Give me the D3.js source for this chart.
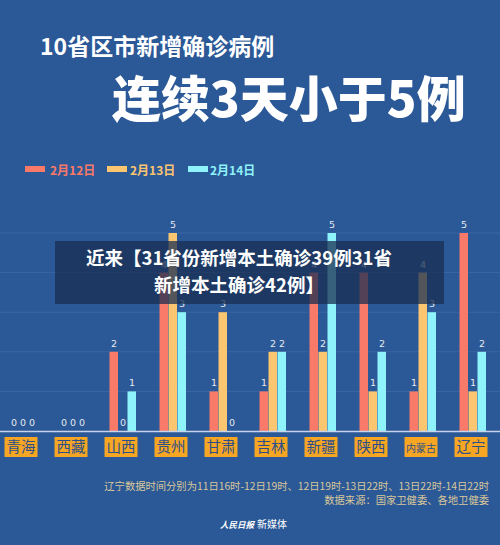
<!DOCTYPE html><html><head><meta charset="utf-8"><script src="https://cdn.jsdelivr.net/npm/d3@7"></script>
<style>body{margin:0;background:#2b5896}svg{display:block}</style></head><body><svg id="c" width="500" height="545"></svg>
<script>
const categories=["青海","西藏","山西","贵州","甘肃","吉林","新疆","陕西","内蒙古","辽宁"];
const seriesNames=["2月12日","2月13日","2月14日"];
const feb12=[0,0,2,4,1,1,4,4,1,5];
const feb13=[0,0,0,5,3,2,2,1,4,1];
const feb14=[0,0,1,3,0,2,5,2,3,2];
const colors=["#f97a68","#fcc570","#8ef3fb"];
const series=[feb12,feb13,feb14];
const svg=d3.select("#c");
const F="'Noto Sans CJK SC',sans-serif";
svg.append("rect").attr("width",500).attr("height",545).attr("fill","#2b5896");
const y=d3.scaleLinear().domain([0,5]).range([431,233]);
for(let v=1;v<=5;v++)svg.append("line").attr("x1",0).attr("x2",500).attr("y1",y(v)).attr("y2",y(v)).attr("stroke","#3b66a3").attr("stroke-width",1);
svg.append("text").attr("x",40).attr("y",55).attr("fill","#fff").attr("font-family",F).attr("font-weight",700).attr("font-size",23).text("10省区市新增确诊病例");
svg.append("text").attr("x",112).attr("y",117).attr("fill","#fff").attr("font-family",F).attr("font-weight",900).attr("font-size",49).text("连续3天小于5例");
const lg=[[25,50],[107,130],[188,210]];
seriesNames.forEach((n,i)=>{svg.append("rect").attr("x",lg[i][0]).attr("y",166).attr("width",20).attr("height",6).attr("fill",colors[i]);
svg.append("text").attr("x",lg[i][1]).attr("y",175).attr("fill",colors[i]).attr("font-family",F).attr("font-weight",700).attr("font-size",12).text(n);});
const x0=d3.scaleBand().domain(categories).range([-4,496]);
const x1=d3.scaleBand().domain([0,1,2]).range([0,27]);
categories.forEach((c,ci)=>{const gx=x0(c)+x0.bandwidth()/2-13.5+2;
series.forEach((s,si)=>{const v=s[ci];const bx=gx+x1(si);
if(v>0)svg.append("rect").attr("x",bx).attr("y",y(v)).attr("width",8.5).attr("height",y(0)-y(v)).attr("fill",colors[si]);
svg.append("text").attr("x",bx+4.5).attr("y",y(v)-5).attr("text-anchor","middle").attr("fill","#e6e9ef").attr("font-family","DejaVu Sans").attr("font-size",9.5).text(v);});
const lx=x0(c)+x0.bandwidth()/2;
svg.append("rect").attr("x",lx-16.5).attr("y",437).attr("width",33).attr("height",20).attr("fill","#f6a623");
svg.append("text").attr("x",lx).attr("y",452).attr("text-anchor","middle").attr("fill","#2b4f8a").attr("font-family",F).attr("font-size",c.length>2?10:14.5).text(c);});
svg.append("line").attr("x1",0).attr("x2",500).attr("y1",431.5).attr("y2",431.5).attr("stroke","#c7d3ea").attr("stroke-width",1.5);
svg.append("rect").attr("x",55).attr("y",241).attr("width",389).attr("height",63).attr("fill","#1a2f52").attr("opacity",0.75);
svg.append("text").attr("x",239).attr("y",265).attr("text-anchor","middle").attr("fill","#fff").attr("font-family",F).attr("font-weight",700).attr("font-size",18.5).text("近来【31省份新增本土确诊39例31省");
svg.append("text").attr("x",239).attr("y",292).attr("text-anchor","middle").attr("fill","#fff").attr("font-family",F).attr("font-weight",700).attr("font-size",18.5).text("新增本土确诊42例】");
svg.append("text").attr("x",489).attr("y",490).attr("text-anchor","end").attr("fill","#d9c79a").attr("font-family",F).attr("font-size",10.3).text("辽宁数据时间分别为11日16时-12日19时、12日19时-13日22时、13日22时-14日22时");
svg.append("text").attr("x",489).attr("y",504).attr("text-anchor","end").attr("fill","#d9c79a").attr("font-family",F).attr("font-size",10.3).text("数据来源：国家卫健委、各地卫健委");
svg.append("text").attr("x",220).attr("y",528).attr("fill","#fff").attr("font-family",F).attr("font-style","italic").attr("font-weight",700).attr("font-size",8.5).text("人民日报");
svg.append("text").attr("x",257).attr("y",528).attr("fill","#fff").attr("font-family",F).attr("font-size",10).text("新媒体");
</script></body></html>
